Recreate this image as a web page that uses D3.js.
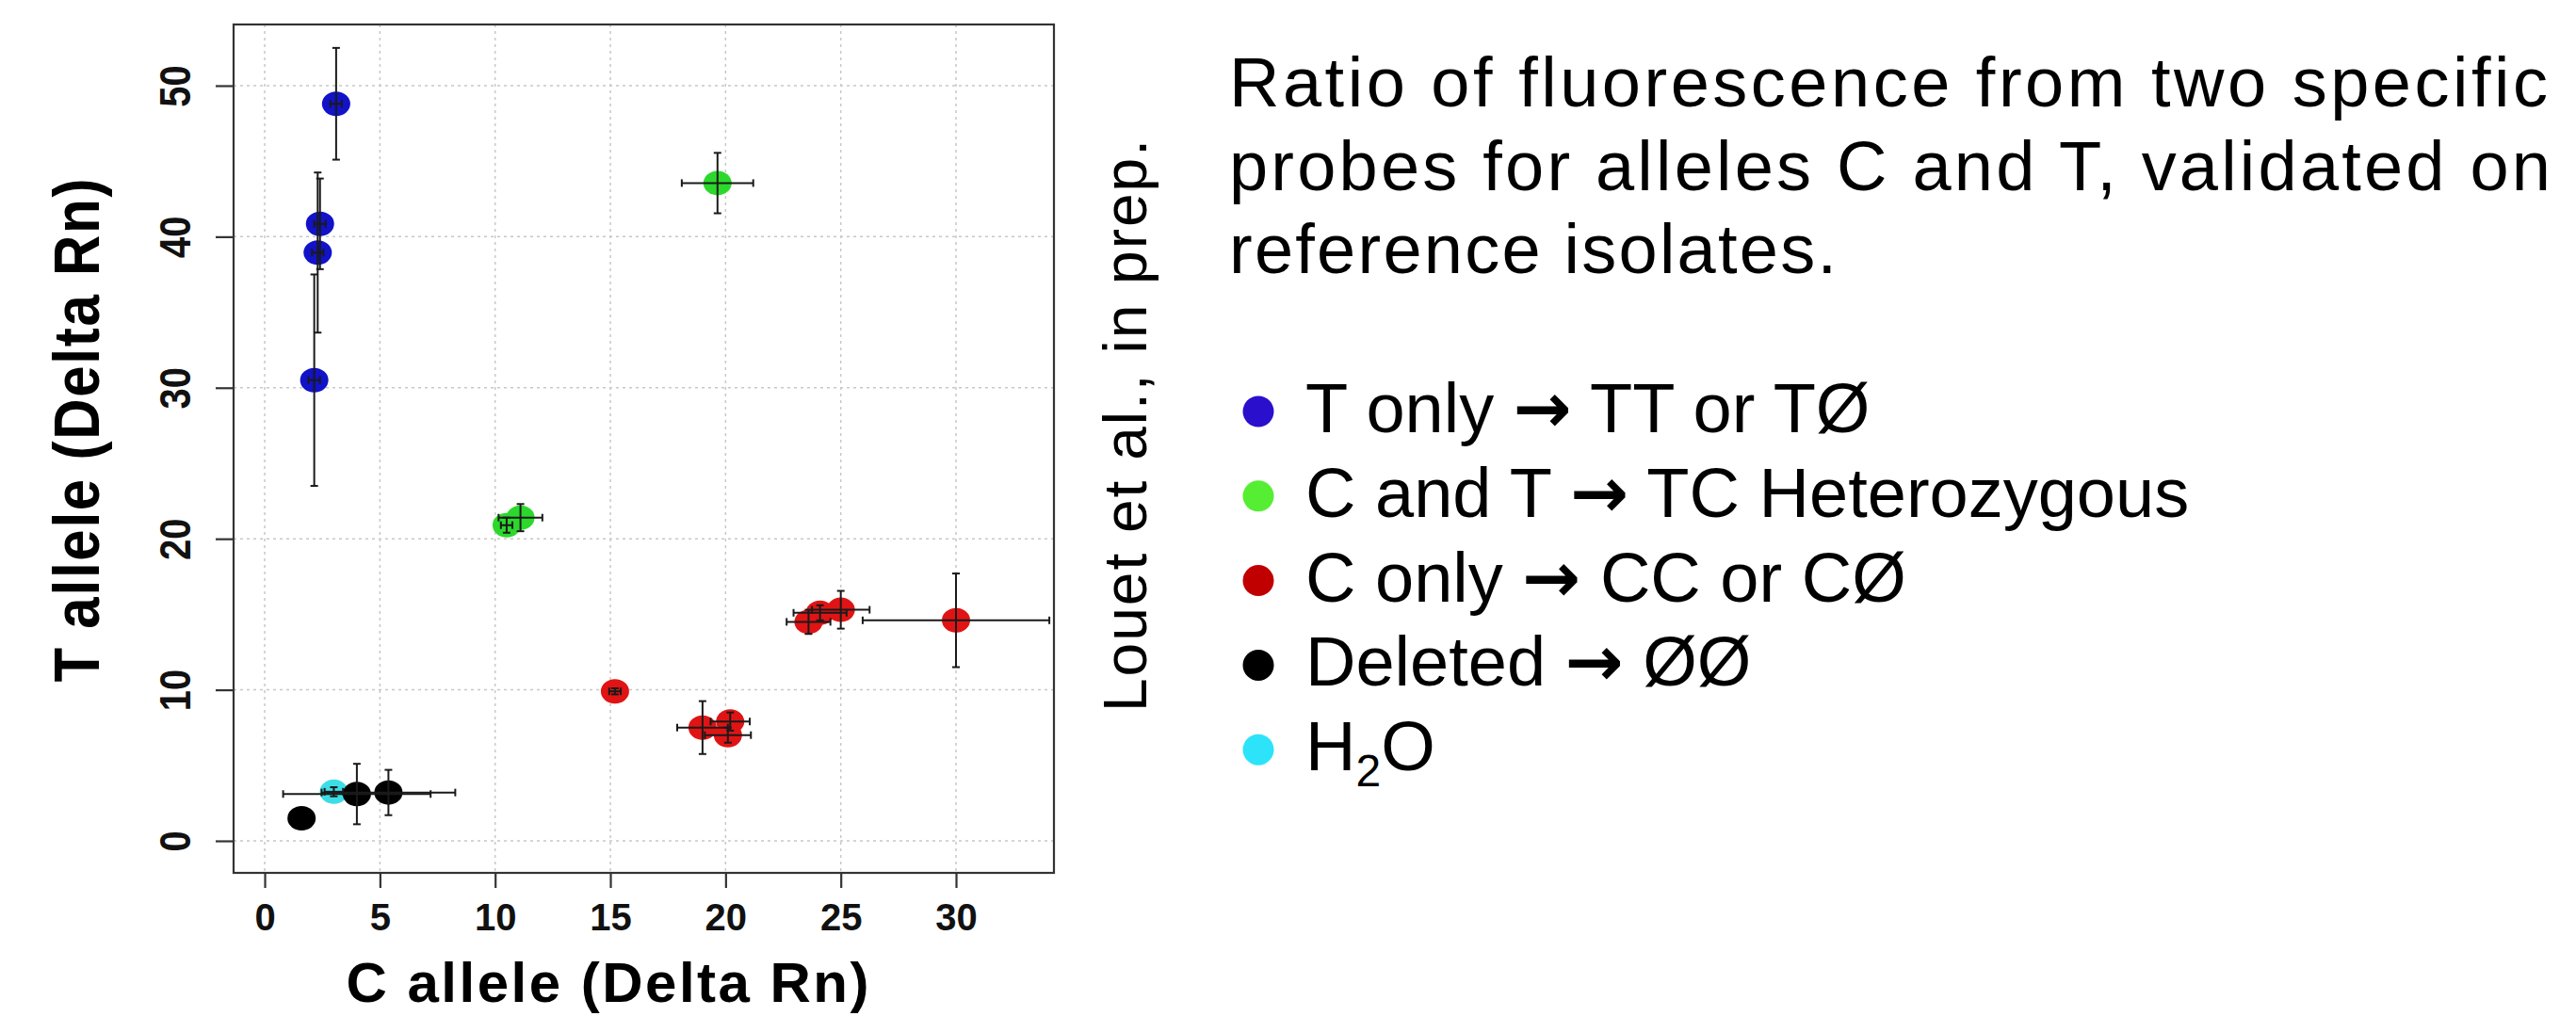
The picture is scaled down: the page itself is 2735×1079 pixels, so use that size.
<!DOCTYPE html>
<meta charset="utf-8">
<script src="https://d3js.org/d3.v7.min.js"></script>
<style>
  body { margin: 0; background: #fff; }
</style>
<div id="my_dataviz"></div>
<script>

// genotype groups
const groups = ["T only", "C and T", "C only", "H2O", "Deleted"];

// one entry per reference isolate (index into groups)
const pointGroup = [0, 0, 0, 0, 1, 1, 1, 2, 2, 2, 2, 2, 2, 2, 2, 3, 4, 4, 4];
const cAllele    = [3.1, 2.4, 2.3, 2.15, 19.65, 10.5, 11.1, 15.2, 19.0, 20.2, 20.1, 23.6, 24.1, 25.0, 30.0, 3.0, 4.0, 5.37, 1.6];
const tAllele    = [48.8, 40.85, 38.95, 30.5, 43.55, 20.9, 21.4, 9.9, 7.5, 7.9, 7.0, 14.5, 15.1, 15.3, 14.6, 3.25, 3.1, 3.2, 1.5];
const cError     = [0.25, 0.25, 0.25, 0.25, 1.55, 0.25, 0.95, 0.25, 1.1, 0.85, 1.0, 0.95, 1.15, 1.25, 4.05, 0.4, 3.2, 2.9, 0];
const tError     = [3.7, 3.0, 5.3, 7.0, 2.0, 0.5, 0.9, 0.2, 1.75, 0.6, 0.5, 0.8, 0.5, 1.25, 3.1, 0.3, 2.0, 1.5, 0];

const xTicks = [0, 5, 10, 15, 20, 25, 30];
const yTicks = [0, 10, 20, 30, 40, 50];
const xLimits = [-1.35, 34.25];
const yLimits = [-2.12, 54.05];

// legend (in the order of the slide)
const legendGroups = [0, 1, 2, 4, 3];
const legendBefore = ["T only ", "C and T ", "C only ", "Deleted ", "H"];
const legendAfter  = [" TT or TØ", " TC Heterozygous", " CC or CØ", " ØØ", ""];

const noteLines = ["Ratio of fluorescence from two specific",
                   "probes for alleles C and T, validated on",
                   "reference isolates."];
const sideNote = "Louet et al., in prep.";

const markColours  = ["#1212c8", "#2cd82c", "#e01414", "#3ddde6", "#000000"];
const legendColours = ["#2a10cc", "#55ee33", "#c00000", "#2de3fa", "#000000"];

var plot = {left: 248, right: 1119, top: 26, bottom: 927};

var svg = d3.select("#my_dataviz").append("svg")
    .attr("width", 2735)
    .attr("height", 1079)
    .style("background", "#fff");

var x = d3.scaleLinear().domain(xLimits).range([plot.left, plot.right]);
var y = d3.scaleLinear().domain(yLimits).range([plot.bottom, plot.top]);

// grid
svg.append("g").selectAll("line")
  .data(xTicks).join("line")
    .attr("x1", d => x(d)).attr("x2", d => x(d))
    .attr("y1", plot.top).attr("y2", plot.bottom)
    .attr("stroke", "#c8c8c8").attr("stroke-width", 1.5)
    .attr("stroke-dasharray", "3,4");
svg.append("g").selectAll("line")
  .data(yTicks).join("line")
    .attr("y1", d => y(d)).attr("y2", d => y(d))
    .attr("x1", plot.left).attr("x2", plot.right)
    .attr("stroke", "#c8c8c8").attr("stroke-width", 1.5)
    .attr("stroke-dasharray", "3,4");

// axes
var tickFont = "'Liberation Sans', Arial, sans-serif";

svg.append("g")
  .attr("transform", "translate(0," + plot.bottom + ")")
  .call(d3.axisBottom(x).tickValues(xTicks).tickSize(16).tickPadding(17))
  .call(g => g.select(".domain").remove())
  .call(g => g.selectAll(".tick line").attr("stroke", "#333").attr("stroke-width", 2.2))
  .call(g => g.selectAll(".tick text")
      .attr("font-family", tickFont).attr("font-weight", "bold")
      .attr("font-size", 40).attr("fill", "#111"));

svg.append("g")
  .attr("transform", "translate(" + plot.left + ",0)")
  .call(d3.axisLeft(y).tickValues(yTicks).tickSize(19))
  .call(g => g.select(".domain").remove())
  .call(g => g.selectAll(".tick line").attr("stroke", "#333").attr("stroke-width", 2.2))
  .call(g => g.selectAll(".tick text")
      .attr("x", null).attr("dy", null)
      .attr("text-anchor", "middle")
      .attr("transform", "translate(-46,0) scale(1.15,1) rotate(-90)")
      .attr("font-family", tickFont).attr("font-weight", "bold")
      .attr("font-size", 40).attr("fill", "#111"));

// frame
svg.append("rect")
  .attr("x", plot.left).attr("y", plot.top)
  .attr("width", plot.right - plot.left)
  .attr("height", plot.bottom - plot.top)
  .attr("fill", "none").attr("stroke", "#333").attr("stroke-width", 2.2);

// axis titles
var titleFont = "'Liberation Sans', Arial, sans-serif";
svg.append("text")
  .attr("x", 645).attr("y", 1064)
  .attr("text-anchor", "middle")
  .attr("font-family", titleFont).attr("font-weight", 700).attr("font-size", 60)
  .attr("textLength", 555)
  .text("C allele (Delta Rn)");

svg.append("text")
  .attr("transform", "translate(105,457) scale(1.15,1) rotate(-90)")
  .attr("text-anchor", "middle")
  .attr("font-family", titleFont).attr("font-weight", 700).attr("font-size", 60)
  .attr("textLength", 535)
  .text("T allele (Delta Rn)");

// points
var idx = d3.range(cAllele.length);

svg.append("g").selectAll("ellipse")
  .data(idx).join("ellipse")
    .attr("cx", i => x(cAllele[i]))
    .attr("cy", i => y(tAllele[i]))
    .attr("rx", 15).attr("ry", 13)
    .attr("fill", i => markColours[pointGroup[i]]);

// error bars on top of the points
var cap = 4;
var bars = svg.append("g").attr("stroke", "#1a1a1a").attr("stroke-width", 2);
idx.forEach(function(i) {
  var cx = x(cAllele[i]), cy = y(tAllele[i]);
  if (cError[i] > 0) {
    var x0 = x(cAllele[i] - cError[i]), x1 = x(cAllele[i] + cError[i]);
    bars.append("line").attr("x1", x0).attr("x2", x1).attr("y1", cy).attr("y2", cy);
    bars.append("line").attr("x1", x0).attr("x2", x0).attr("y1", cy - cap).attr("y2", cy + cap);
    bars.append("line").attr("x1", x1).attr("x2", x1).attr("y1", cy - cap).attr("y2", cy + cap);
  }
  if (tError[i] > 0) {
    var y0 = y(tAllele[i] - tError[i]), y1 = y(tAllele[i] + tError[i]);
    bars.append("line").attr("x1", cx).attr("x2", cx).attr("y1", y0).attr("y2", y1);
    bars.append("line").attr("x1", cx - cap).attr("x2", cx + cap).attr("y1", y0).attr("y2", y0);
    bars.append("line").attr("x1", cx - cap).attr("x2", cx + cap).attr("y1", y1).attr("y2", y1);
  }
});

// right-hand text
var noteFont = "'Liberation Sans', Arial, sans-serif";
var noteWidths = [1400, 1403, 645];
svg.append("g").selectAll("text")
  .data(noteLines).join("text")
    .attr("x", 1305)
    .attr("y", (d, i) => 113 + i * 88.5)
    .attr("font-family", noteFont).attr("font-size", 74).attr("fill", "#000")
    .attr("textLength", (d, i) => noteWidths[i])
    .text(d => d);

svg.append("text")
  .attr("transform", "translate(1217,452) rotate(-90)")
  .attr("text-anchor", "middle")
  .attr("font-family", noteFont).attr("font-size", 64).attr("fill", "#000")
  .attr("textLength", 608)
  .text(sideNote);

// legend
var legend = svg.append("g").selectAll("g")
  .data(legendGroups).join("g")
    .attr("transform", (d, i) => "translate(1336," + (437 + i * 89.8) + ")");

legend.append("circle")
  .attr("r", 16.5)
  .attr("fill", d => legendColours[d]);

var legendText = legend.append("text")
  .attr("x", 50).attr("y", 22)
  .attr("font-family", noteFont).attr("font-size", 74).attr("fill", "#000");

legendText.each(function(d, i) {
  var t = d3.select(this);
  t.append("tspan").text(legendBefore[i]);
  if (groups[d] === "H2O") {
    t.append("tspan").attr("font-size", 48).attr("dy", 17).text("2");
    t.append("tspan").attr("dy", -17).text("O");
  } else {
    t.append("tspan")
      .attr("font-family", "'DejaVu Sans', sans-serif").attr("font-weight", "bold")
      .text("→");
    t.append("tspan").text(legendAfter[i]);
  }
});

</script>
